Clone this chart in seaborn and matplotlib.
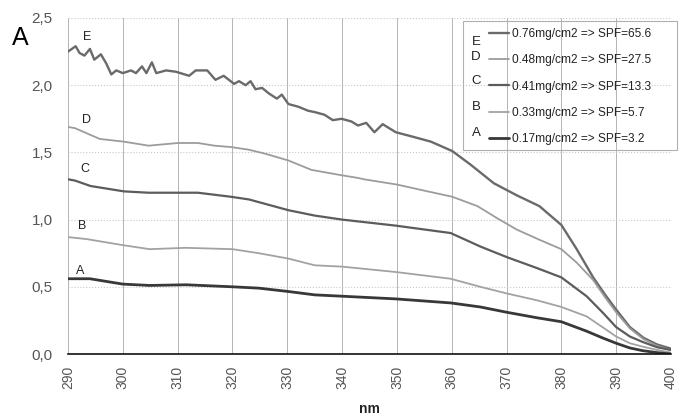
import numpy as np
import pandas as pd
import matplotlib
matplotlib.use("Agg")
import matplotlib.pyplot as plt
import seaborn as sns
from matplotlib.ticker import FuncFormatter, MultipleLocator
from matplotlib.lines import Line2D
from matplotlib.patches import Rectangle

# --- data (wavelength nm, absorbance) ---
E_nm = [290.0, 290.7, 291.4, 292.1, 293.0, 294.0, 294.8, 296.0, 297.0, 297.9, 298.8, 300.0,
        301.5, 302.4, 303.5, 304.3, 305.3, 306.1, 307.9, 309.7, 312.1, 313.3, 315.4, 316.9,
        318.4, 320.3, 321.2, 322.4, 323.3, 324.2, 325.4, 326.6, 328.1, 329.0, 330.2, 332.0,
        333.8, 335.0, 336.8, 338.3, 339.9, 341.7, 342.9, 344.4, 345.9, 347.4, 349.8, 352.6,
        356.2, 360.1, 363.4, 367.7, 371.9, 376.0, 380.0, 382.8, 385.8, 388.0, 390.0, 392.5,
        395.0, 397.5, 400.0]
E_abs = [2.25, 2.27, 2.29, 2.24, 2.22, 2.27, 2.19, 2.23, 2.16, 2.08, 2.11, 2.09,
         2.11, 2.09, 2.14, 2.09, 2.17, 2.09, 2.11, 2.10, 2.07, 2.11, 2.11, 2.04,
         2.07, 2.01, 2.03, 2.00, 2.03, 1.97, 1.98, 1.94, 1.90, 1.93, 1.86, 1.84,
         1.81, 1.80, 1.78, 1.74, 1.75, 1.73, 1.70, 1.72, 1.65, 1.71, 1.65, 1.62,
         1.58, 1.51, 1.41, 1.27, 1.18, 1.10, 0.96, 0.78, 0.57, 0.44, 0.33, 0.20,
         0.12, 0.07, 0.04]

D_nm = [290.0, 291.3, 294.1, 295.8, 300.2, 304.7, 310.1, 313.7, 316.7, 319.7, 323.0, 326.0,
        330.2, 334.4, 339.9, 342.9, 344.0, 350.1, 355.6, 360.1, 364.7, 368.3, 371.9, 376.0,
        380.0, 382.8, 385.8, 388.0, 390.0, 392.5, 395.0, 397.5, 400.0]
D_abs = [1.69, 1.68, 1.63, 1.60, 1.58, 1.55, 1.57, 1.57, 1.55, 1.54, 1.52, 1.49,
         1.44, 1.37, 1.33, 1.31, 1.30, 1.26, 1.21, 1.17, 1.10, 1.01, 0.925, 0.85,
         0.78, 0.68, 0.55, 0.42, 0.31, 0.19, 0.11, 0.06, 0.03]

C_nm = [290.0, 291.3, 294.1, 300.2, 304.7, 313.7, 319.7, 323.0, 330.2, 335.0, 340.0, 349.8,
        359.8, 365.2, 370.1, 375.5, 380.0, 384.6, 387.5, 390.0, 392.5, 394.8, 397.5, 400.0]
C_abs = [1.30, 1.29, 1.25, 1.21, 1.20, 1.20, 1.17, 1.15, 1.07, 1.03, 1.00, 0.955,
         0.90, 0.80, 0.72, 0.64, 0.57, 0.43, 0.31, 0.20, 0.13, 0.09, 0.05, 0.03]

B_nm = [290.0, 293.4, 300.0, 304.9, 311.5, 320.0, 324.8, 330.2, 335.0, 340.0, 349.8, 359.8,
        365.2, 370.1, 375.5, 380.0, 384.6, 387.5, 390.0, 392.5, 394.8, 397.5, 400.0]
B_abs = [0.87, 0.855, 0.81, 0.78, 0.79, 0.78, 0.75, 0.71, 0.66, 0.65, 0.61, 0.56,
         0.50, 0.45, 0.40, 0.35, 0.28, 0.20, 0.13, 0.08, 0.055, 0.03, 0.01]

A_nm = [290.0, 294.0, 300.0, 304.9, 311.5, 320.0, 324.8, 330.2, 335.0, 340.0, 349.8, 359.8,
        365.2, 370.1, 375.5, 380.0, 384.6, 387.5, 390.0, 392.5, 394.8, 397.5, 400.0]
A_abs = [0.56, 0.56, 0.52, 0.51, 0.515, 0.50, 0.49, 0.465, 0.44, 0.43, 0.41, 0.38,
         0.35, 0.31, 0.27, 0.24, 0.17, 0.12, 0.08, 0.045, 0.025, 0.01, 0.00]

series_names = ["E", "D", "C", "B", "A"]
legend_labels = ["0.76mg/cm2 => SPF=65.6", "0.48mg/cm2 => SPF=27.5",
                 "0.41mg/cm2 => SPF=13.3", "0.33mg/cm2 => SPF=5.7",
                 "0.17mg/cm2 => SPF=3.2"]
# letter tags near the start of each curve (nm, absorbance)
tag_nm = [293.4, 293.4, 293.1, 292.5, 292.2]
tag_abs = [2.36, 1.74, 1.38, 0.95, 0.62]

curves = {"E": (E_nm, E_abs), "D": (D_nm, D_abs), "C": (C_nm, C_abs),
          "B": (B_nm, B_abs), "A": (A_nm, A_abs)}
colors = {"E": "#6a6a6a", "D": "#9c9c9c", "C": "#5c5c5c", "B": "#a2a2a2", "A": "#383838"}
widths = {"E": 1.7, "D": 1.3, "C": 1.6, "B": 1.3, "A": 2.0}

sns.set_style("white")
plt.rcParams["font.family"] = ["Liberation Sans", "DejaVu Sans"]

fig = plt.figure(figsize=(6.8, 4.19), dpi=100)
ax = fig.add_axes([68 / 680, 1 - 354 / 419, (671 - 68) / 680, (354 - 18) / 419])

for name in series_names:
    x, y = curves[name]
    df = pd.DataFrame({"nm": x, "abs": y})
    sns.lineplot(data=df, x="nm", y="abs", ax=ax, color=colors[name],
                 lw=widths[name], legend=False)

for name, tx, ty in zip(series_names, tag_nm, tag_abs):
    ax.text(tx, ty, name, fontsize=9, color="#222222", ha="center", va="center")

ax.set_xlim(290, 400)
ax.set_ylim(0, 2.5)
ax.xaxis.set_major_locator(MultipleLocator(10))
ax.yaxis.set_major_locator(MultipleLocator(0.5))
ax.yaxis.set_major_formatter(FuncFormatter(lambda v, p: f"{v:.1f}".replace(".", ",")))

ax.grid(axis="x", color="#b4b4b4", lw=0.7, ls="-")
ax.grid(axis="y", color="#c8c8c8", lw=0.8, ls=":")
ax.get_xgridlines()[0].set_linestyle(":")
ax.get_xgridlines()[0].set_color("#d0d0d0")

for s in ["top", "right", "left"]:
    ax.spines[s].set_visible(False)
ax.spines["bottom"].set_color("#111111")
ax.spines["bottom"].set_linewidth(1.2)

ax.tick_params(axis="x", direction="inout", length=7, width=1, color="#111111",
               labelsize=10, labelcolor="#555555", labelrotation=90, pad=5)
ax.tick_params(axis="y", length=0, labelsize=11, labelcolor="#555555", pad=11)

ax.set_xlabel("nm", fontsize=10, fontweight="bold", color="#222222", labelpad=9)
ax.set_ylabel("")

# legend, with letter tags in front of the handles
handles = [Line2D([], [], color=colors[n], lw=widths[n]) for n in series_names]
ax.legend(handles, legend_labels, loc="upper left",
          bbox_to_anchor=(489 / 680, 1 - 28 / 419), bbox_transform=fig.transFigure,
          frameon=False, fontsize=8.6, labelspacing=1.2, handlelength=1.7,
          handletextpad=0.2, borderpad=0, borderaxespad=0, labelcolor="#222222")
fig.patches.append(Rectangle((463 / 680, 1 - 150 / 419), 214 / 680, 129 / 419,
                             transform=fig.transFigure, fill=False,
                             edgecolor="#b0b0b0", lw=0.8))
letter_y = [42, 57, 81, 107, 133]
for name, yy in zip(series_names, letter_y):
    fig.text(476 / 680, 1 - yy / 419, name, fontsize=9.5, color="#222222",
             ha="center", va="center")

fig.text(20 / 680, 1 - 38 / 419, "A", fontsize=18, color="black", ha="center", va="center")

fig.savefig("out.png", dpi=100)
